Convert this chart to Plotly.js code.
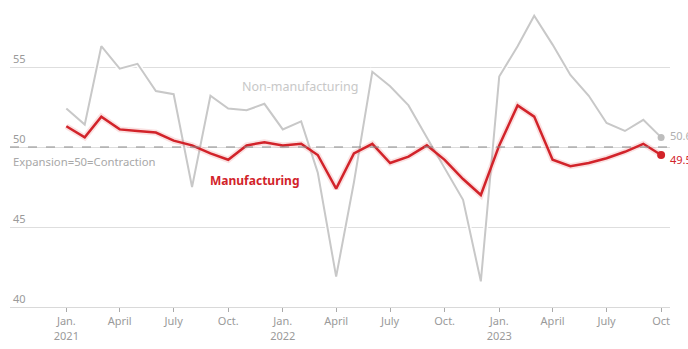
<!DOCTYPE html>
<html>
<head>
<meta charset="utf-8">
<script src="https://cdn.plot.ly/plotly-3.0.1.min.js"></script>
<style>html,body{margin:0;padding:0;background:#fff;}#chart{width:688px;height:349px;}</style>
</head>
<body>
<div id="chart"></div>
<script>
const months = [
  '2021-01-01','2021-02-01','2021-03-01','2021-04-01','2021-05-01','2021-06-01',
  '2021-07-01','2021-08-01','2021-09-01','2021-10-01','2021-11-01','2021-12-01',
  '2022-01-01','2022-02-01','2022-03-01','2022-04-01','2022-05-01','2022-06-01',
  '2022-07-01','2022-08-01','2022-09-01','2022-10-01','2022-11-01','2022-12-01',
  '2023-01-01','2023-02-01','2023-03-01','2023-04-01','2023-05-01','2023-06-01',
  '2023-07-01','2023-08-01','2023-09-01','2023-10-01'
];
const manufacturing = [
  51.3,50.6,51.9,51.1,51.0,50.9,50.4,50.1,49.6,49.2,50.1,50.3,
  50.1,50.2,49.5,47.4,49.6,50.2,49.0,49.4,50.1,49.2,48.0,47.0,
  50.1,52.6,51.9,49.2,48.8,49.0,49.3,49.7,50.2,49.5
];
const nonManufacturing = [
  52.4,51.4,56.3,54.9,55.2,53.5,53.3,47.5,53.2,52.4,52.3,52.7,
  51.1,51.6,48.4,41.9,47.8,54.7,53.8,52.6,50.6,48.7,46.7,41.6,
  54.4,56.3,58.2,56.4,54.5,53.2,51.5,51.0,51.7,50.6
];
const tickDates = ['2021-01-01','2021-04-01','2021-07-01','2021-10-01','2022-01-01','2022-04-01','2022-07-01','2022-10-01','2023-01-01','2023-04-01','2023-07-01','2023-10-01'];
const tickLabels = ['Jan.<br>2021','April','July','Oct.','Jan.<br>2022','April','July','Oct.','Jan.<br>2023','April','July','Oct'];
const yTicks = [40,45,50,55];

const RED = '#d2232a';
const GREY = '#c8c8c8';
const FONT = 'Noto Sans, Open Sans, sans-serif';
const last = months.length - 1;

const traces = [
  {x: months, y: nonManufacturing, type: 'scatter', mode: 'lines', line: {color: 'rgba(255,255,255,0.9)', width: 5}, hoverinfo: 'skip', showlegend: false},
  {x: months, y: nonManufacturing, type: 'scatter', mode: 'lines', line: {color: GREY, width: 2}, name: 'Non-manufacturing', showlegend: false},
  {x: months, y: manufacturing, type: 'scatter', mode: 'lines', line: {color: 'rgba(230,90,90,0.18)', width: 6}, hoverinfo: 'skip', showlegend: false},
  {x: months, y: manufacturing, type: 'scatter', mode: 'lines', line: {color: RED, width: 2.5}, name: 'Manufacturing', showlegend: false},
  {x: [months[last]], y: [nonManufacturing[last]], type: 'scatter', mode: 'markers', marker: {color: '#bdbdbd', size: 7}, showlegend: false, cliponaxis: false},
  {x: [months[last]], y: [manufacturing[last]], type: 'scatter', mode: 'markers', marker: {color: RED, size: 8}, showlegend: false, cliponaxis: false}
];

const layout = {
  width: 688, height: 349,
  margin: {l: 10, r: 18, t: 3, b: 42},
  paper_bgcolor: '#fff', plot_bgcolor: '#fff',
  font: {family: FONT, color: '#999', size: 11},
  showlegend: false,
  xaxis: {
    type: 'date',
    range: ['2020-09-28', '2023-10-16'],
    tickvals: tickDates, ticktext: tickLabels,
    showgrid: false, zeroline: false,
    showline: true, linecolor: '#d9d9d9', linewidth: 1,
    ticks: 'outside', ticklen: 4, tickcolor: '#aaa', tickwidth: 1,
    tickfont: {size: 11, color: '#9a9a9a', family: FONT}
  },
  yaxis: {
    range: [40, 59],
    tickvals: yTicks, ticktext: yTicks.map(String),
    ticklabelposition: 'inside top',
    showgrid: true, gridcolor: '#dedede', gridwidth: 1,
    zeroline: false, showline: false, ticks: '',
    tickfont: {size: 11, color: '#9a9a9a', family: FONT}
  },
  shapes: [
    {type: 'line', xref: 'paper', x0: 0, x1: 1, yref: 'y', y0: 50, y1: 50, line: {color: '#8a8a8a', width: 1, dash: 'dash'}}
  ],
  annotations: [
    {x: '2022-01-30', y: 53.8, xref: 'x', yref: 'y', text: 'Non-manufacturing', showarrow: false, font: {size: 12.5, color: '#c8c8c8', family: FONT}},
    {x: '2021-11-14', y: 47.9, xref: 'x', yref: 'y', text: '<b>Manufacturing</b>', showarrow: false, font: {size: 12, color: RED, family: FONT}},
    {x: 0.002, y: 49.1, xref: 'paper', yref: 'y', xanchor: 'left', text: 'Expansion=50=Contraction', showarrow: false, font: {size: 11.3, color: '#a8a8a8', family: FONT}},
    {x: months[last], y: 50.7, xref: 'x', yref: 'y', xanchor: 'left', xshift: 7, text: '50.6', showarrow: false, font: {size: 11, color: '#b0b0b0', family: FONT}},
    {x: months[last], y: 49.2, xref: 'x', yref: 'y', xanchor: 'left', xshift: 7, text: '49.5', showarrow: false, font: {size: 11, color: RED, family: FONT}}
  ]
};

Plotly.newPlot('chart', traces, layout, {displayModeBar: false, staticPlot: true});
</script>
</body>
</html>
